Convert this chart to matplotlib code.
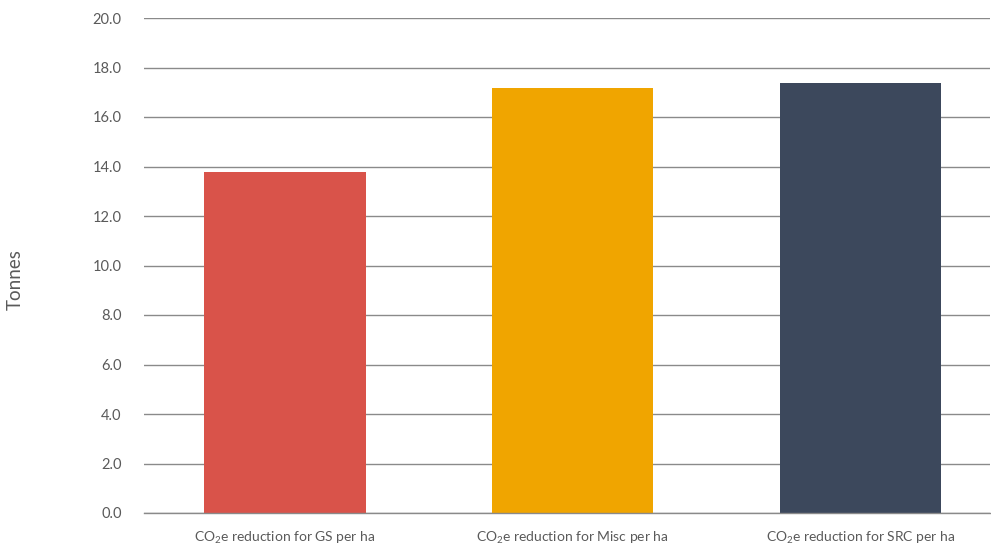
import numpy as np
import matplotlib
matplotlib.use("Agg")
import matplotlib.pyplot as plt

plt.rcParams['font.family'] = ['Lato', 'DejaVu Sans']
plt.rcParams['font.weight'] = 'normal'
plt.rcParams['mathtext.default'] = 'regular'

# CO2e reduction per hectare by crop
categories = ['CO$_2$e reduction for GS per ha',
              'CO$_2$e reduction for Misc per ha',
              'CO$_2$e reduction for SRC per ha']
values = [13.78, 17.17, 17.37]
colors = ['#D9534A', '#F0A500', '#3C485C']
yticks = [0, 2, 4, 6, 8, 10, 12, 14, 16, 18, 20]

fig = plt.figure(figsize=(9.91, 5.51), dpi=100)
ax = fig.add_axes([144 / 991, 1 - 513 / 551, (990 - 144) / 991, (513 - 18) / 551])

x = np.arange(len(categories))
ax.bar(x, values, width=0.56, color=colors, zorder=3)

ax.set_ylim(0, 20)
ax.set_xlim(-0.49, 2.45)
ax.set_yticks(yticks)
ax.set_yticklabels([f'{v:.1f}' for v in yticks])
ax.set_xticks(x)
ax.set_xticklabels(categories)

ax.grid(axis='y', color='#8a8a8a', linewidth=1.0, zorder=0)
ax.axhline(0, color='#8a8a8a', linewidth=1.0, zorder=4, clip_on=False)
for s in ax.spines.values():
    s.set_visible(False)
ax.tick_params(axis='y', length=0, pad=16, labelsize=10.5, labelcolor='#5a5a5a')
ax.tick_params(axis='x', length=0, pad=12, labelsize=10, labelcolor='#5a5a5a')

fig.text(15 / 991, 1 - 280 / 551, 'Tonnes', rotation=90, ha='center', va='center',
         fontsize=13.5, color='#5a5a5a')

fig.savefig('out.png', dpi=100)
